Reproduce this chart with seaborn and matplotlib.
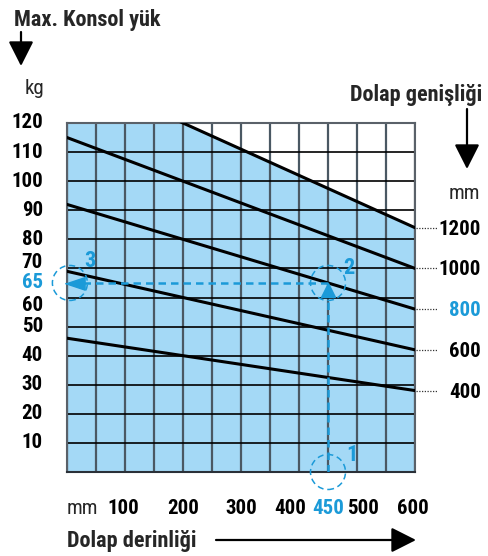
import numpy as np
import pandas as pd
import matplotlib
matplotlib.use("Agg")
import matplotlib.pyplot as plt
import matplotlib.transforms as mtransforms
from matplotlib.patches import Ellipse, FancyArrowPatch
from matplotlib import font_manager
import seaborn as sns

# ---- data -------------------------------------------------------------
depth_mm = [0, 600]                       # cabinet depth at the chart ends
widths = [400, 600, 800, 1000, 1200]      # cabinet width of each load line
load_400 = [46, 28]
load_600 = [69, 42]
load_800 = [92, 56]
load_1000 = [115, 70]
load_1200 = [138, 84]

y_tick_values = [10, 20, 30, 40, 50, 60, 65, 70, 80, 90, 100, 110, 120]
x_tick_values = [100, 200, 300, 400, 450, 500, 600]

example_depth = 450
example_width = 800
example_load = 65

# ---- style ------------------------------------------------------------
sns.set_theme(style="white")
names = {f.name for f in font_manager.fontManager.ttflist}
FONT = "Liberation Sans"
FS, FT = 14, 14
for cand in ["Liberation Sans Narrow", "Roboto Condensed", "Arial Narrow"]:
    if cand in names:
        FONT = cand
        FS, FT = 15, 16
        break
plt.rcParams["font.family"] = [FONT, "DejaVu Sans"]

BLUE = "#1b9ad8"
FILL = "#a4d9f6"
W, H = 488, 556

fig = plt.figure(figsize=(W / 100, H / 100), dpi=100)
ax = fig.add_axes([67 / W, 1 - 472 / H, 348 / W, 349 / H])


def fx(px):
    return px / W


def fy(py):
    return 1 - py / H


lines = pd.DataFrame({
    "depth": depth_mm * 5,
    "load": load_400 + load_600 + load_800 + load_1000 + load_1200,
    "width": sum([[w, w] for w in widths], []),
})

# shaded admissible area under the widest cabinet line
ax.fill_between(depth_mm, 0, load_1200, color=FILL, lw=0, zorder=0.5)

sns.lineplot(data=lines, x="depth", y="load", hue="width",
             palette=["black"] * 5, lw=2.2, legend=False, ax=ax, zorder=3)

ax.set_xlim(0, 600)
ax.set_ylim(0, 120)
ax.set_xticks(np.arange(0, 601, 50))
ax.set_yticks(np.arange(0, 121, 10))
ax.set_axisbelow("line")
ax.xaxis.grid(True, color="#4a5863", lw=1.6)
ax.yaxis.grid(True, color="black", lw=1.2)
ax.tick_params(length=0, labelbottom=False, labelleft=False)
ax.set_xlabel("")
ax.set_ylabel("")
for side, sp in ax.spines.items():
    sp.set_color("#5a6169")
    sp.set_linewidth(1.5)
ax.spines["bottom"].set_color("#2a3038")

# ---- example reading: depth 450 -> width 800 -> load 65 -------------
ax.plot([example_depth, example_depth], [0, example_load - 4.5], color=BLUE,
        lw=1.8, ls=(0, (3, 2)), zorder=4)
ax.plot([example_depth], [example_load - 2.4], marker="^", ms=10.5,
        color=BLUE, mec=BLUE, zorder=5)
ax.plot([example_depth, 27], [example_load, example_load], color=BLUE,
        lw=1.8, ls=(0, (3, 2)), zorder=4)
ax.plot([19], [example_load], marker=[(-1, 0), (0.5, -0.5), (0.5, 0.5)],
        ms=19, color=BLUE, mec=BLUE, zorder=5, clip_on=False)

circle_w = 35 * 600 / 348
circle_h = 35 * 120 / 349
for (cx, cy), num, (tx, ty) in [((example_depth, 0), "1", (352, 455)),
                                ((example_depth, example_load), "2", (349, 268)),
                                ((5, example_load), "3", (90, 261))]:
    ax.add_patch(Ellipse((cx, cy), circle_w, circle_h, fill=False, ec=BLUE,
                         lw=1.1, ls=(0, (4, 2.5)), clip_on=False, zorder=5))
    fig.text(fx(tx), fy(ty), num, color=BLUE, fontsize=FS + 1, fontweight="bold",
             ha="center", va="center")

# ---- axis labels --------------------------------------------------------
y_shift = {70: 2.2, 60: -2.6}
for v in y_tick_values:
    col = BLUE if v == example_load else "black"
    ax.text(-(67 - 43) * 600 / 348, v + y_shift.get(v, 0), str(v),
            color=col, fontsize=FS, fontweight="bold", ha="right", va="center",
            clip_on=False)

x_shift = {100: -2, 400: -9, 500: 6, 600: -2}
for v in x_tick_values:
    col = BLUE if v == example_depth else "black"
    off = mtransforms.ScaledTranslation(x_shift.get(v, 0) / 100, 0, fig.dpi_scale_trans)
    trans = mtransforms.blended_transform_factory(ax.transData, fig.transFigure) + off
    ax.text(v, fy(509), str(v), transform=trans, color=col, fontsize=FS,
            fontweight="bold", ha="center", va="center", clip_on=False)
fig.text(fx(82), fy(509), "mm", fontsize=FS, ha="center", va="center")

# width labels at the right ends of the load lines
for w, ld in zip(widths, [load_400, load_600, load_800, load_1000, load_1200]):
    y_end = ld[-1]
    y_px = 472 - y_end * 349 / 120
    fig.add_artist(plt.Line2D([fx(416), fx(438)], [fy(y_px), fy(y_px)],
                              color="#333333", lw=0.9, ls=(0, (1, 1.2))))
    col = BLUE if w == example_width else "black"
    fig.text(fx(481), fy(y_px + 1.5), str(w), color=col, fontsize=FS,
             fontweight="bold", ha="right", va="center")

fig.text(fx(14), fy(26), "Max. Konsol yük", fontsize=FT, fontweight="bold",
         ha="left", va="baseline")
fig.text(fx(25), fy(94), "kg", fontsize=FS, ha="left", va="baseline")
fig.text(fx(482), fy(101), "Dolap genişliği", fontsize=FT, fontweight="bold",
         ha="right", va="baseline")
fig.text(fx(449), fy(199), "mm", fontsize=FS, ha="left", va="baseline")
fig.text(fx(67), fy(547), "Dolap derinliği", fontsize=FT, fontweight="bold",
         ha="left", va="baseline")

# direction arrows
for (x0, y0), (x1, y1) in [((21, 32), (21, 66)),
                           ((467, 109), (467, 169)),
                           ((216, 540), (416, 540))]:
    fig.add_artist(FancyArrowPatch((fx(x0), fy(y0)), (fx(x1), fy(y1)),
                                   transform=fig.transFigure,
                                   arrowstyle="-|>,head_length=0.95,head_width=0.48",
                                   mutation_scale=16, color="black", lw=1.6,
                                   shrinkA=0, shrinkB=0))

fig.savefig("out.png", dpi=100, facecolor="white")
